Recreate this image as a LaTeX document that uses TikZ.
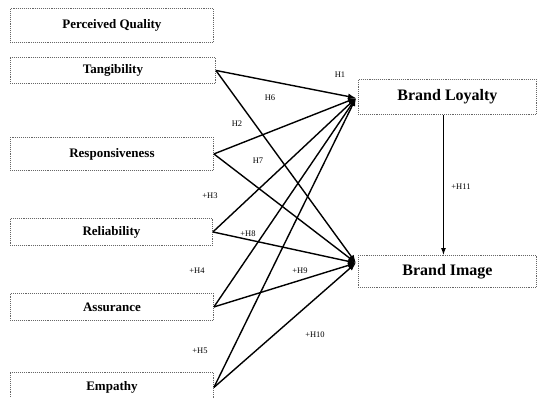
\documentclass[tikz,border=0pt]{standalone}
\usepackage{fontspec}
\setmainfont{Liberation Serif}
\usetikzlibrary{arrows.meta}
\begin{document}
\begin{tikzpicture}[x=1pt,y=-1pt,
  box/.style={draw=black!60, densely dotted, line width=0.9pt, anchor=north west, inner sep=0pt,
    font=\bfseries\fontsize{13}{14}\selectfont},
  rbox/.style={box, font=\bfseries\fontsize{16}{17}\selectfont},
  link/.style={line width=1.4pt, -{Latex[length=8pt,width=6pt]}},
  lab/.style={font=\fontsize{8.5}{9}\selectfont, inner sep=0pt}]
\useasboundingbox (0,0) rectangle (537,398);
\fill[white] (0,0) rectangle (537,398);
% left boxes
\node[box, minimum width=203pt, minimum height=34pt] (pq) at (10,8) {Perceived Quality};
\node[box, minimum width=205pt, minimum height=26pt] (tang) at (10,57) {Tangibility};
\node[box, minimum width=203pt, minimum height=33pt] (resp) at (10,137) {Responsiveness};
\node[box, minimum width=202pt, minimum height=27pt] (reli) at (10,218) {Reliability};
\node[box, minimum width=203pt, minimum height=27pt] (assu) at (10,293) {Assurance};
\node[box, minimum width=203pt, minimum height=30pt] (empa) at (10,372) {Empathy};
% right boxes
\node[rbox, minimum width=178pt, minimum height=35pt] (bl) at (358,79) {Brand Loyalty};
\node[rbox, minimum width=178pt, minimum height=32pt] (bi) at (358,255) {Brand Image};
\coordinate (blin) at (356,98);
\coordinate (biin) at (356,263);
% links
\foreach \s in {tang,resp,reli,assu,empa}{
  \draw[link] (\s.east) -- (blin);
  \draw[link] (\s.east) -- (biin);
}
\draw[line width=1pt, -{Latex[length=7pt,width=5pt]}] ([xshift=-4pt]bl.south) -- ([xshift=-4pt]bi.north);
% labels
\node[lab] (h1) at (340,75) {H1};
\node[lab] (h6) at (270,98) {H6};
\node[lab] (h2) at (237,124) {H2};
\node[lab] (h7) at (258,161) {H7};
\node[lab] (h3) at (210,196) {+H3};
\node[lab] (h8) at (248,234) {+H8};
\node[lab] (h4) at (197,271) {+H4};
\node[lab] (h9) at (300,271) {+H9};
\node[lab] (h5) at (200,351) {+H5};
\node[lab] (h10) at (315,335) {+H10};
\node[lab] (h11) at (461,187) {+H11};
\end{tikzpicture}
\end{document}
